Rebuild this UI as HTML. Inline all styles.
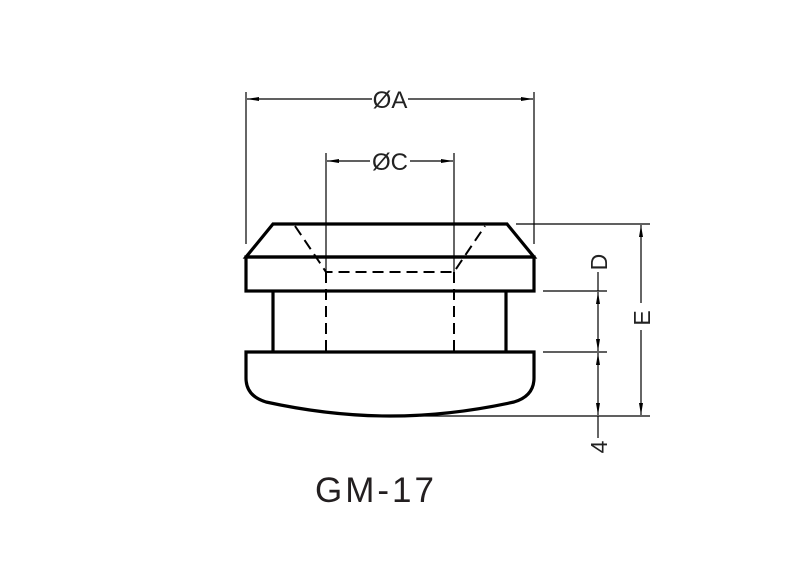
<!DOCTYPE html>
<html><head><style>body{margin:0;background:#fff}svg{display:block}</style></head><body>
<svg width="800" height="576" viewBox="0 0 800 576" xmlns="http://www.w3.org/2000/svg">
<defs>
<marker id="ar" viewBox="0 0 12 4" refX="12" refY="2" markerWidth="12" markerHeight="4" orient="auto-start-reverse" markerUnits="userSpaceOnUse"><path d="M0,0 L12,2 L0,4 Z" fill="#000"/></marker>
</defs>
<g fill="none" stroke="#000" stroke-width="3.2" stroke-linejoin="miter">
<path d="M246,257 L273,224 L507,224 L534,257 Z"/>
<rect x="246" y="257" width="288" height="34"/>
<line x1="273" y1="291" x2="273" y2="352"/>
<line x1="506" y1="291" x2="506" y2="352"/>
<path d="M246,352 L534,352 L534,378 Q534,396 514,402 Q450,416 390,416 Q330,416 266,402 Q246,396 246,378 Z"/>
</g>
<g fill="none" stroke="#000" stroke-width="2" stroke-dasharray="11,6">
<path d="M295,226 L320,263 L326,272 L454,272 L460,263 L485,226"/>
<line x1="326" y1="272" x2="326" y2="352"/>
<line x1="454" y1="272" x2="454" y2="352"/>
</g>
<g stroke="#000" stroke-width="1.2" fill="none">
<line x1="246" y1="92" x2="246" y2="244"/>
<line x1="534" y1="92" x2="534" y2="244"/>
<line x1="326" y1="153" x2="326" y2="272"/>
<line x1="454" y1="153" x2="454" y2="272"/>
<line x1="247" y1="99" x2="372" y2="99" marker-start="url(#ar)"/>
<line x1="408" y1="99" x2="533" y2="99" marker-end="url(#ar)"/>
<line x1="327" y1="161" x2="370" y2="161" marker-start="url(#ar)"/>
<line x1="410" y1="161" x2="453" y2="161" marker-end="url(#ar)"/>
<line x1="516" y1="224" x2="650" y2="224"/>
<line x1="543" y1="291" x2="607" y2="291"/>
<line x1="543" y1="352" x2="607" y2="352"/>
<line x1="420" y1="416" x2="650" y2="416"/>
<line x1="641" y1="225" x2="641" y2="303" marker-start="url(#ar)"/>
<line x1="641" y1="330" x2="641" y2="415" marker-end="url(#ar)"/>
<line x1="598" y1="272" x2="598" y2="291"/>
<line x1="598" y1="292" x2="598" y2="351" marker-start="url(#ar)" marker-end="url(#ar)"/>
<line x1="598" y1="353" x2="598" y2="415" marker-start="url(#ar)" marker-end="url(#ar)"/>
<line x1="598" y1="416" x2="598" y2="438"/>
</g>
<g font-family="Liberation Sans, sans-serif" fill="#222">
<text x="390" y="108" font-size="24" text-anchor="middle">ØA</text>
<text x="390" y="170" font-size="24" text-anchor="middle">ØC</text>
<text transform="translate(607,262) rotate(-90)" font-size="23" text-anchor="middle">D</text>
<text transform="translate(650,318) rotate(-90)" font-size="23" text-anchor="middle">E</text>
<text transform="translate(607,447) rotate(-90)" font-size="23" text-anchor="middle">4</text>
<text x="376" y="502" font-size="35" text-anchor="middle" letter-spacing="3" fill="#231f20">GM-17</text>
</g>
</svg>
</body></html>
